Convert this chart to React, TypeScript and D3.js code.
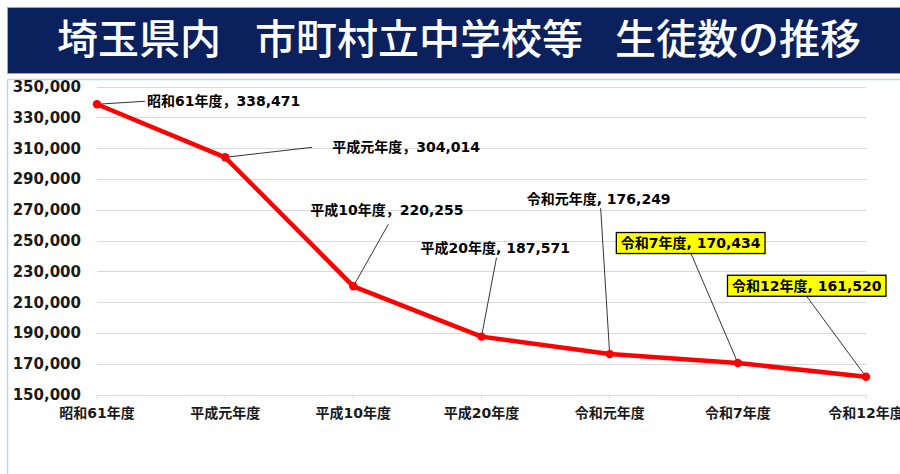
import React, { useLayoutEffect, useRef, useState } from "react";
import * as d3 from "d3";

const categories = ["昭和61年度", "平成元年度", "平成10年度", "平成20年度", "令和元年度", "令和7年度", "令和12年度"];
const students = [338471, 304014, 220255, 187571, 176249, 170434, 161520];
const labelTexts = [
  "昭和61年度，338,471",
  "平成元年度，304,014",
  "平成10年度，220,255",
  "平成20年度, 187,571",
  "令和元年度, 176,249",
  "令和7年度, 170,434",
  "令和12年度, 161,520",
];
const highlighted = [false, false, false, false, false, true, true];
const yTicks = [150000, 170000, 190000, 210000, 230000, 250000, 270000, 290000, 310000, 330000, 350000];
const titleParts = ["埼玉県内", "市町村立中学校等", "生徒数の推移"];

// layout of label boxes relative to the point: [dx of text start, dy of text centre, leader end dx, leader end dy]
const labelLayout = [
  [50, -3, 48, -3],
  [107, -10, 87, -10],
  [-43, -76, 35, -62],
  [-61, -89, 15, -79],
  [-83, -155, -9, -146],
  [-117, -120, -47, -110],
  [-134, -91, -59, -80],
];
const titleX = [57, 255, 615];

const W = 900;
const H = 474;
const FONT = "'DejaVu Sans', 'Noto Sans CJK JP', sans-serif";

export default function App() {
  const x = d3.scalePoint<string>().domain(categories).range([97, 866]);
  const y = d3.scaleLinear().domain([150000, 350000]).range([394.5, 86.5]);
  const fmt = d3.format(",");
  const line = d3
    .line<number>()
    .x((_, i) => x(categories[i]) as number)
    .y((d) => y(d));

  const textRefs = useRef<(SVGTextElement | null)[]>([]);
  const [widths, setWidths] = useState<number[]>(labelTexts.map((t) => t.length * 8.4));
  useLayoutEffect(() => {
    const w = textRefs.current.map((el, i) => (el ? el.getComputedTextLength() : widths[i]));
    setWidths(w);
  }, []);

  return (
    <svg width={W} height={H} style={{ position: "absolute", left: 0, top: 0 }}>
      <rect x={0} y={0} width={W} height={H} fill="#fff" />
      {/* chart frame */}
      <line x1={7.5} y1={79.5} x2={W} y2={79.5} stroke="#bdd7ee" strokeWidth={1.5} />
      <line x1={7.5} y1={79.5} x2={7.5} y2={H} stroke="#bdd7ee" strokeWidth={1.5} />
      {/* title banner */}
      <rect x={7.5} y={7.5} width={W} height={66} fill="#0b215e" stroke="#8eaadb" strokeWidth={1} />
      {titleParts.map((t, i) => (
        <text
          key={t}
          x={titleX[i]}
          y={54}
          fill="#fff"
          fontSize={41}
          fontWeight={500}
          fontFamily="'Noto Sans CJK JP', sans-serif"
        >
          {t}
        </text>
      ))}
      {/* gridlines */}
      {yTicks.map((t) => (
        <line
          key={t}
          x1={97}
          x2={866}
          y1={Math.round(y(t)) + 0.5}
          y2={Math.round(y(t)) + 0.5}
          stroke="#d9d9d9"
          strokeWidth={1.2}
        />
      ))}
      {/* y tick labels */}
      {yTicks.map((t) => (
        <text
          key={"l" + t}
          x={81}
          y={y(t)}
          dy="0.36em"
          textAnchor="end"
          fontSize={15}
          fontWeight={700}
          fontFamily={FONT}
          fill="#1a1a1a"
        >
          {fmt(t)}
        </text>
      ))}
      {/* x ticks + labels */}
      {categories.map((c) => (
        <g key={c}>
          <line x1={x(c)} x2={x(c)} y1={395} y2={399} stroke="#d9d9d9" strokeWidth={1} />
          <text
            x={x(c)}
            y={413}
            dy="0.36em"
            textAnchor="middle"
            fontSize={14}
            fontWeight={700}
            fontFamily={FONT}
            fill="#1a1a1a"
          >
            {c}
          </text>
        </g>
      ))}
      {/* leader lines */}
      {students.map((v, i) => {
        const px = x(categories[i]) as number;
        const py = y(v);
        const L = labelLayout[i];
        return (
          <line key={"ld" + i} x1={px} y1={py} x2={px + L[2]} y2={py + L[3]} stroke="#000" strokeWidth={0.8} />
        );
      })}
      {/* series line */}
      <path d={line(students) || ""} fill="none" stroke="#ff0000" strokeWidth={4.5} strokeLinejoin="round" />
      {students.map((v, i) => (
        <circle key={"p" + i} cx={x(categories[i])} cy={y(v)} r={4.2} fill="#ff0000" />
      ))}
      {/* data labels */}
      {students.map((v, i) => {
        const px = x(categories[i]) as number;
        const py = y(v);
        const L = labelLayout[i];
        const tx = px + L[0];
        const ty = py + L[1];
        return (
          <g key={"dl" + i}>
            {highlighted[i] && (
              <rect
                x={tx - 4.5}
                y={ty - 10.5}
                width={widths[i] + 9}
                height={21}
                fill="#ffff00"
                stroke="#000"
                strokeWidth={1.3}
              />
            )}
            <text
              ref={(el) => {
                textRefs.current[i] = el;
              }}
              x={tx}
              y={ty}
              dy="0.36em"
              fontSize={14}
              fontWeight={700}
              fontFamily={FONT}
              fill="#000"
            >
              {labelTexts[i]}
            </text>
          </g>
        );
      })}
    </svg>
  );
}
